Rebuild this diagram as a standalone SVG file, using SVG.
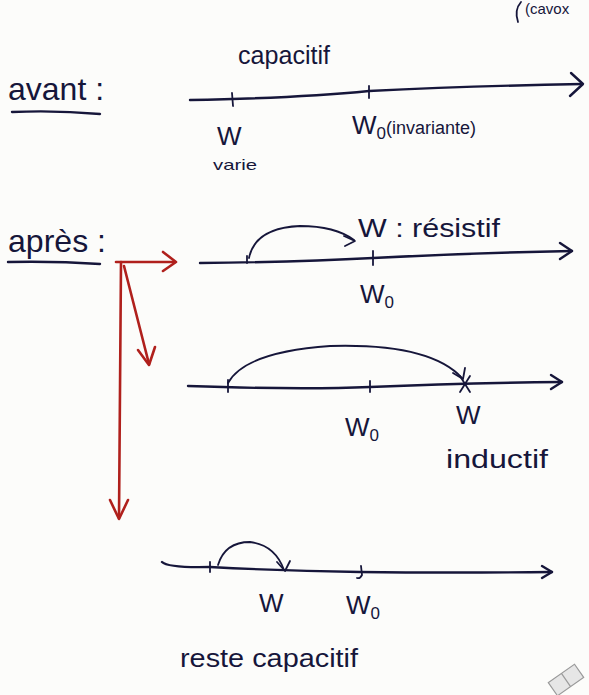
<svg xmlns="http://www.w3.org/2000/svg" width="589" height="695" viewBox="0 0 589 695">
  <style>
    .ink { fill: none; stroke: #16163a; stroke-width: 2.4; stroke-linecap: round; stroke-linejoin: round; }
    .thin { fill: none; stroke: #16163a; stroke-width: 1.8; stroke-linecap: round; stroke-linejoin: round; }
    .red { fill: none; stroke: #b0201c; stroke-width: 2.6; stroke-linecap: round; stroke-linejoin: round; }
    text { font-family: "Liberation Sans", "DejaVu Sans", sans-serif; fill: #16163a; }
    .lbl { font-size: 26px; }
    .small { font-size: 15px; }
    .sub { font-size: 17px; }
    .head { font-size: 32px; }
  </style>

  <rect width="589" height="695" fill="#fcfcfa"/>

  <!-- clipped note in the top corner -->
  <g id="corner-note">
    <path class="thin" d="M521 2 Q514 10 518 22" stroke="#333"/>
    <text x="525" y="14" class="small" fill="#333">(cavox</text>
  </g>

  <!-- before -->
  <g id="avant">
    <text x="8" y="100" class="head">avant :</text>
    <path class="ink" d="M12 112 Q55 110 100 114"/>
  </g>

  <g id="axis-1">
    <path class="ink" d="M190 100 Q300 98 369 91 Q470 86 582 84"/>
    <path class="ink" d="M571 73 L583 84 L570 96"/>
    <path class="thin" d="M232 93 L233 106"/>
    <path class="thin" d="M369 86 L369 98"/>
    <text x="238" y="64" class="lbl" textLength="92" lengthAdjust="spacingAndGlyphs">capacitif</text>
    <text x="217" y="145" class="lbl">W</text>
    <text x="213" y="170" class="small" textLength="44" lengthAdjust="spacingAndGlyphs">varie</text>
    <text x="352" y="134" class="lbl">W<tspan class="sub" dy="5">0</tspan><tspan dy="-5" font-size="18">(invariante)</tspan></text>
  </g>

  <!-- after -->
  <g id="apres">
    <text x="8" y="252" class="head" font-size="28" textLength="98" lengthAdjust="spacingAndGlyphs">après :</text>
    <path class="ink" d="M8 262 Q55 261 100 264"/>
  </g>

  <g id="axis-2">
    <path class="ink" d="M200 263 Q300 262 373 258 Q470 253 572 251"/>
    <path class="ink" d="M560 243 L572 251 L560 259"/>
    <path class="thin" d="M247 256 L247 263"/>
    <path class="thin" d="M373 251 L373 265"/>
    <text x="358" y="237" class="lbl" font-size="22" textLength="142" lengthAdjust="spacingAndGlyphs">W : résistif</text>
    <text x="360" y="303" class="lbl">W<tspan class="sub" dy="5">0</tspan></text>
  </g>

  <g id="axis-3">
    <path class="ink" d="M188 386 Q300 390 370 387 Q460 383 562 382"/>
    <path class="ink" d="M551 375 L562 382 L551 389"/>
    <path class="thin" d="M228 380 L228 392"/>
    <path class="thin" d="M370 381 L370 392"/>
    <path class="thin" d="M460 376 L470 392 M470 376 L460 392"/>
    <text x="345" y="436" class="lbl">W<tspan class="sub" dy="5">0</tspan></text>
    <text x="456" y="424" class="lbl" font-size="22">W</text>
    <text x="446" y="468" class="lbl" font-size="26" textLength="102" lengthAdjust="spacingAndGlyphs">inductif</text>
  </g>

  <g id="axis-4">
    <path class="ink" d="M162 562 Q168 568 210 567 Q285 571 360 572 Q450 573 552 572"/>
    <path class="ink" d="M542 566 L552 572 L542 578"/>
    <path class="thin" d="M210 562 L210 572"/>
    <path class="thin" d="M361 566 L362 575 Q360 579 357 578"/>
    <text x="259" y="612" class="lbl" font-size="23">W</text>
    <text x="346" y="614" class="lbl">W<tspan class="sub" dy="5">0</tspan></text>
    <text x="180" y="667" class="lbl" font-size="26" textLength="178" lengthAdjust="spacingAndGlyphs">reste capacitif</text>
  </g>

  <!-- jumps of W along each axis, and the red branching arrows -->
  <g id="connectors">
    <path class="thin" d="M249 258 Q255 228 300 226 Q335 226 354 240"/>
    <path class="thin" d="M344 236 L355 241 L345 246"/>
    <path class="thin" d="M228 383 Q245 352 330 346 Q430 343 462 378"/>
    <path class="thin" d="M453 373 L463 379 L465 368"/>
    <path class="thin" d="M218 565 Q225 542 250 542 Q275 545 284 570"/>
    <path class="thin" d="M277 562 L285 571 L290 561"/>

    <path class="red" d="M116 262 L175 262"/>
    <path class="red" d="M163 252 L176 262 L163 271"/>
    <path class="red" d="M121 262 L119 518"/>
    <path class="red" d="M110 500 L119 519 L128 500"/>
    <path class="red" d="M124 266 L149 364"/>
    <path class="red" d="M138 350 L149 365 L155 347"/>
  </g>

  <!-- eraser mark in the lower corner -->
  <g id="corner-mark" transform="translate(566 680) rotate(-35)">
    <rect x="-16" y="-8" width="32" height="16" fill="#e6e6e6" stroke="#9a9a9a" stroke-width="1.2"/>
    <line x1="0" y1="-8" x2="0" y2="8" stroke="#9a9a9a" stroke-width="1.2"/>
  </g>
</svg>
